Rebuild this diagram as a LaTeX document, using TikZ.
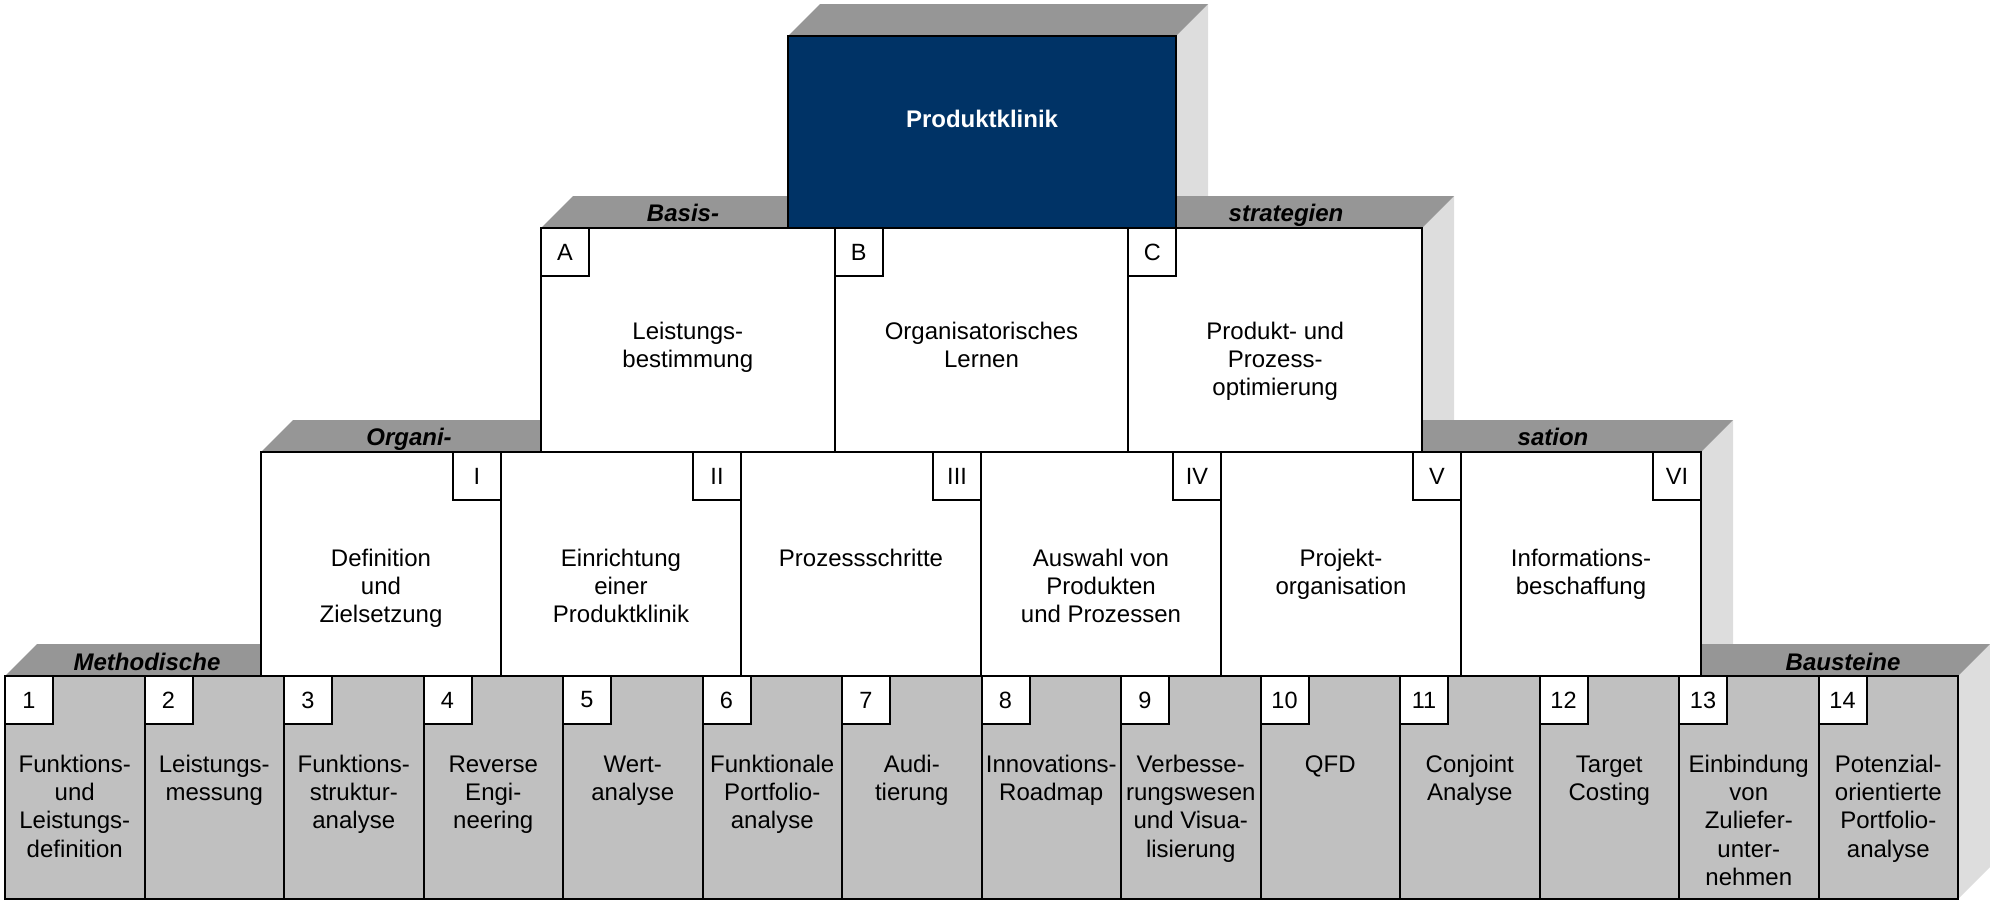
\documentclass[tikz,border=0pt]{standalone}
\usepackage{fontspec}
\setmainfont{Liberation Sans}
\usetikzlibrary{calc}
\definecolor{topgray}{HTML}{969696}
\definecolor{sidegray}{HTML}{DDDDDD}
\definecolor{boxgray}{HTML}{C0C0C0}
\definecolor{pkblue}{HTML}{003366}
\newcommand\mlines[1]{\begin{tabular}[t]{@{}c@{}}#1\end{tabular}}
\begin{document}
\begin{tikzpicture}[x=0.5pt,y=-0.5pt,line width=1pt,
  topface/.style={fill=topgray,draw=none},
  sideface/.style={fill=sidegray,draw=none},
  block/.style={draw=black,line width=1pt,inner sep=0pt,outer sep=0pt,anchor=north west},
  tag/.style={draw=black,fill=white,line width=1pt,inner sep=0pt,outer sep=0pt,minimum size=24pt,font=\fontsize{11.75}{14}\selectfont},
  body/.style={inner sep=0pt,anchor=base,font=\fontsize{12}{14.2}\selectfont},
  facelabel/.style={inner sep=0pt,anchor=base,font=\fontsize{12}{14}\selectfont\bfseries\itshape},
]
\useasboundingbox (0,0) rectangle (1990,901);

% ---- back faces ----
\fill[sideface] (1176,36) -- (1208,4) -- (1208,196) -- (1176,228) -- cycle;
\fill[topface] (788,36) -- (820,4) -- (1208,4) -- (1176,36) -- cycle;
\fill[sideface] (1422,228) -- (1454,196) -- (1454,420) -- (1422,452) -- cycle;
\fill[topface] (541,228) -- (573,196) -- (1454,196) -- (1422,228) -- cycle;
\fill[sideface] (1701,452) -- (1733,420) -- (1733,644) -- (1701,676) -- cycle;
\fill[topface] (261,452) -- (293,420) -- (1733,420) -- (1701,452) -- cycle;
\fill[sideface] (1958,676) -- (1990,644) -- (1990,867) -- (1958,899) -- cycle;
\fill[topface] (5,676) -- (37,644) -- (1990,644) -- (1958,676) -- cycle;

% ---- top block ----
\node[block,fill=pkblue,minimum width=194pt,minimum height=96pt] (pk) at (788,36) {};
\node[inner sep=0pt,anchor=base,text=white,font=\fontsize{12}{14}\selectfont\bfseries] (pktxt) at (982,127) {Produktklinik};

% ---- row 2 ----
\foreach \i/\l/\t in {0/A/{Leistungs-\\bestimmung},1/B/{Organisatorisches\\Lernen},2/C/{Produkt- und\\Prozess-\\optimierung}} {
  \pgfmathsetmacro\xl{541+\i*293.67}
  \node[block,fill=white,minimum width=146.83pt,minimum height=112pt] (s\l) at (\xl,228) {};
  \node[tag,anchor=north west] (s\l tag) at (s\l.north west) {\l};
  \node[body] (s\l txt) at ($(s\l.north)+(0,111)$) {\mlines{\t}};
}

% ---- row 3 ----
\foreach \i/\l/\t in {0/I/{Definition\\und\\Zielsetzung},1/II/{Einrichtung\\einer\\Produktklinik},2/III/{Prozessschritte},3/IV/{Auswahl von\\Produkten\\und Prozessen},4/V/{Projekt-\\organisation},5/VI/{Informations-\\beschaffung}} {
  \pgfmathsetmacro\xl{261+\i*240}
  \node[block,fill=white,minimum width=120pt,minimum height=112pt] (o\l) at (\xl,452) {};
  \node[tag,anchor=north east] (o\l tag) at (o\l.north east) {\l};
  \node[body] (o\l txt) at ($(o\l.north)+(0,114)$) {\mlines{\t}};
}

% ---- row 4 ----
\foreach \i/\t in {1/{Funktions-\\und\\Leistungs-\\definition},2/{Leistungs-\\messung},3/{Funktions-\\struktur-\\analyse},4/{Reverse\\Engi-\\neering},5/{Wert-\\analyse},6/{Funktionale\\Portfolio-\\analyse},7/{Audi-\\tierung},8/{Innovations-\\Roadmap},9/{Verbesse-\\rungswesen\\und Visua-\\lisierung},10/{QFD},11/{Conjoint\\Analyse},12/{Target\\Costing},13/{Einbindung\\von\\Zuliefer-\\unter-\\nehmen},14/{Potenzial-\\orientierte\\Portfolio-\\analyse}} {
  \pgfmathsetmacro\xl{5+(\i-1)*139.5}
  \node[block,fill=boxgray,minimum width=69.75pt,minimum height=111.5pt] (m\i) at (\xl,676) {};
  \node[tag,anchor=north west] (m\i tag) at (m\i.north west) {\i};
  \node[body] (m\i txt) at ($(m\i.north)+(0,96)$) {\mlines{\t}};
}

% ---- face labels ----
\node[facelabel] (lbasis) at (683,221) {Basis-};
\node[facelabel] (lstrat) at (1286,221) {strategien};
\node[facelabel] (lorga) at (409,445) {Organi-};
\node[facelabel] (lsation) at (1553,445) {sation};
\node[facelabel] (lmeth) at (147,670) {Methodische};
\node[facelabel] (lbau) at (1843,670) {Bausteine};
\end{tikzpicture}
\end{document}
